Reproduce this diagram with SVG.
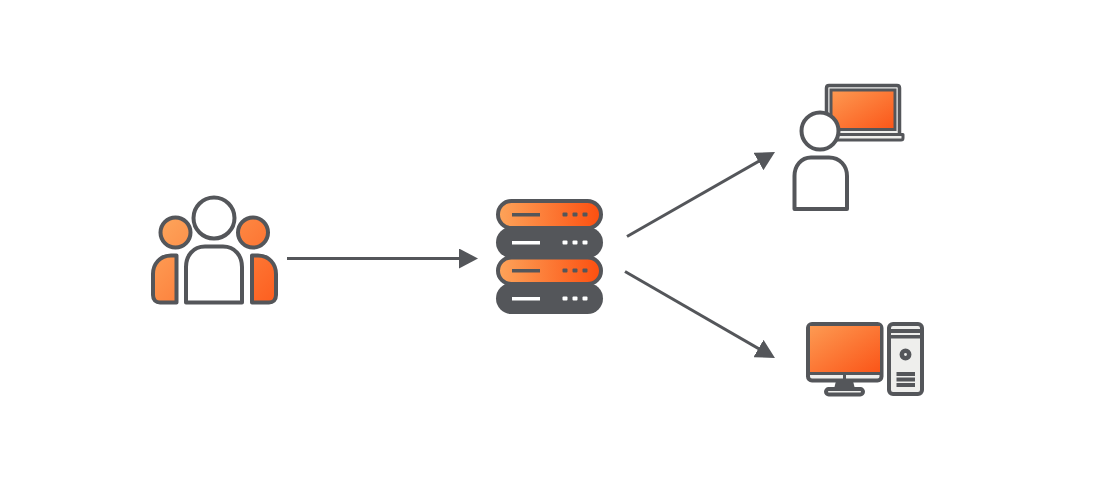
<svg xmlns="http://www.w3.org/2000/svg" width="1100" height="500" viewBox="0 0 1100 500">
  <style>
    .ol { stroke: #54565a; stroke-width: 4; stroke-linejoin: round; }
    .w { fill: #fff; }
    .lt { fill: #eeeeec; }
    .dk { fill: #54565a; }
    .link { stroke: #54565a; stroke-width: 3; fill: none; marker-end: url(#head); }
  </style>
  <defs>
    <linearGradient id="diag" x1="0" y1="0" x2="1" y2="1">
      <stop offset="0" stop-color="#fd9a52"/>
      <stop offset="1" stop-color="#fb5518"/>
    </linearGradient>
    <linearGradient id="horiz" x1="0" y1="0" x2="1" y2="0">
      <stop offset="0" stop-color="#fda45a"/>
      <stop offset="1" stop-color="#fc4f10"/>
    </linearGradient>
    <linearGradient id="groupFill" gradientUnits="userSpaceOnUse" x1="165" y1="205" x2="280" y2="310">
      <stop offset="0" stop-color="#fda85e"/>
      <stop offset="1" stop-color="#fd5a1c"/>
    </linearGradient>
    <marker id="head" viewBox="0 0 19 20" refX="9" refY="10" markerWidth="19" markerHeight="20" markerUnits="userSpaceOnUse" orient="auto">
      <path d="M0 0 L19 10 L0 20 Z" fill="#54565a"/>
    </marker>
  </defs>

  <g id="connectors">
    <path class="link" d="M287 258.500H468"/>
    <path class="link" d="M627 236.500L766.300 157"/>
    <path class="link" d="M625 271.500L766.300 353"/>
  </g>

  <g id="users">
    <circle class="ol" cx="175.500" cy="232.500" r="15" fill="url(#groupFill)"/>
    <circle class="ol" cx="253" cy="232.500" r="15" fill="url(#groupFill)"/>
    <path class="ol" fill="url(#groupFill)" d="M176.500 255.500H171C160 255.500 153 264 153 274V295C153 300 156 302.500 160 302.500H176.500Z"/>
    <path class="ol" fill="url(#groupFill)" d="M252 255.500H258C269 255.500 276 264 276 274V295C276 300 273 302.500 269 302.500H252Z"/>
    <circle class="ol w" cx="214" cy="218" r="20.500"/>
    <path class="ol w" d="M205 246.500H223C235 246.500 242 256 242 267V302.500H186V267C186 256 193 246.500 205 246.500Z"/>
  </g>

  <g id="server">
    <rect class="dk" x="496" y="227" width="107" height="31" rx="15.500"/>
    <rect class="dk" x="496" y="283" width="107" height="31" rx="15.500"/>
    <rect class="ol" x="498" y="201" width="103" height="27" rx="13.500" fill="url(#horiz)"/>
    <rect class="ol" x="498" y="257.500" width="103" height="26.500" rx="13.250" fill="url(#horiz)"/>
    <g class="dk">
      <rect x="512" y="213" width="28" height="3.500"/>
      <rect x="562.500" y="212.500" width="5" height="4" rx="1"/>
      <rect x="572.500" y="212.500" width="5" height="4" rx="1"/>
      <rect x="582.500" y="212.500" width="5" height="4" rx="1"/>
      <rect x="512" y="269" width="28" height="3.500"/>
      <rect x="562.500" y="268.500" width="5" height="4" rx="1"/>
      <rect x="572.500" y="268.500" width="5" height="4" rx="1"/>
      <rect x="582.500" y="268.500" width="5" height="4" rx="1"/>
    </g>
    <g fill="#fff">
      <rect x="512" y="241" width="28" height="3.500"/>
      <rect x="562.500" y="240.500" width="5" height="4" rx="1"/>
      <rect x="572.500" y="240.500" width="5" height="4" rx="1"/>
      <rect x="582.500" y="240.500" width="5" height="4" rx="1"/>
      <rect x="512" y="297" width="28" height="3.500"/>
      <rect x="562.500" y="296.500" width="5" height="4" rx="1"/>
      <rect x="572.500" y="296.500" width="5" height="4" rx="1"/>
      <rect x="582.500" y="296.500" width="5" height="4" rx="1"/>
    </g>
  </g>

  <g id="laptop-user">
    <path fill="#eeeeec" stroke="#54565a" stroke-width="3.500" stroke-linejoin="round" d="M826.500 135V88C826.500 86.500 827.500 85.500 829 85.500H897C898.500 85.500 899.500 86.500 899.500 88V135Z"/>
    <rect x="831" y="90" width="64" height="39.500" fill="url(#diag)" stroke="#54565a" stroke-width="3"/>
    <path fill="#eeeeec" stroke="#54565a" stroke-width="3" stroke-linejoin="round" d="M825 134.500H903V138C903 139.200 902 140 901 140H827C825.800 140 825 139.200 825 138Z"/>
    <rect x="853" y="133" width="19" height="3" class="dk"/>
    <circle class="ol w" cx="820" cy="131" r="18.500"/>
    <path class="ol w" d="M811 157.500H829C840 157.500 847 166 847 176V209H794.500V176C794.500 166 801 157.500 811 157.500Z"/>
  </g>

  <g id="desktop">
    <rect class="ol" x="808" y="324" width="73.500" height="56.500" rx="4" fill="#eeeeec"/>
    <rect x="810" y="326" width="70" height="46" fill="url(#diag)"/>
    <path d="M807.500 373.500H882" stroke="#54565a" stroke-width="3"/>
    <path d="M844.500 374V379" stroke="#54565a" stroke-width="3"/>
    <path class="dk" d="M836 381H853L855 389H834Z"/>
    <rect class="ol lt" x="826" y="389" width="37" height="5.500" rx="2.700"/>
    <rect class="ol lt" x="889" y="324" width="33" height="70" rx="4"/>
    <rect class="dk" x="888" y="329" width="35" height="4"/>
    <rect class="dk" x="888" y="335" width="35" height="3.500"/>
    <circle cx="905.500" cy="354.500" r="3.700" fill="#eeeeec" stroke="#54565a" stroke-width="4.500"/>
    <rect class="dk" x="896.500" y="372" width="18.500" height="4"/>
    <rect class="dk" x="896.500" y="377.500" width="18.500" height="4"/>
    <rect class="dk" x="896.500" y="383" width="18.500" height="4"/>
  </g>
</svg>
